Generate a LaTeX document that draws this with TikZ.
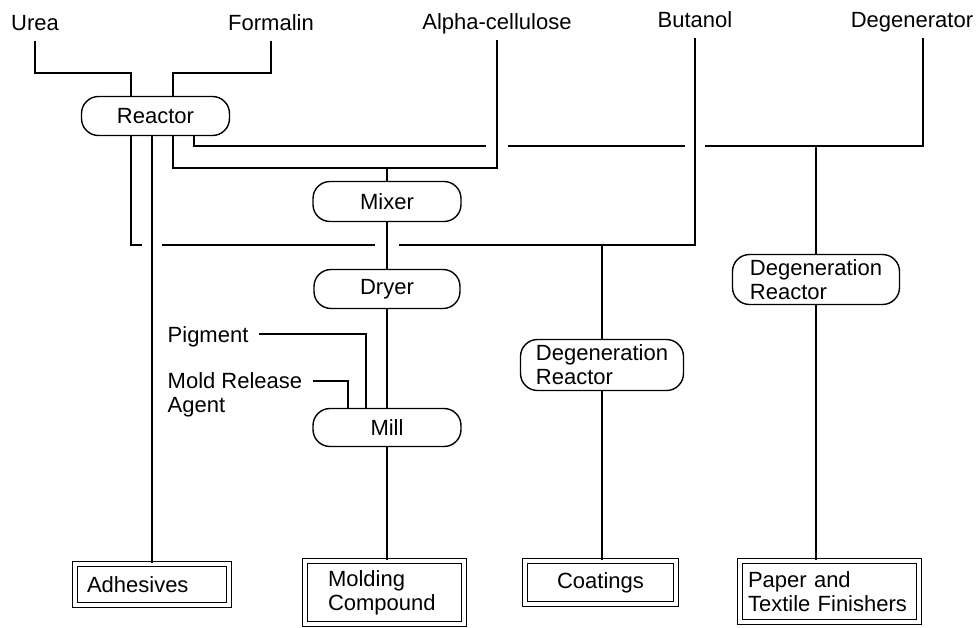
\documentclass[tikz,border=0pt]{standalone}
\usepackage{fontspec}
\setmainfont{Liberation Sans}

\begin{document}
\begin{tikzpicture}[x={(1pt,0pt)},y={(0pt,-1pt)},line width=1.4pt,
	every node/.style={font=\fontsize{22}{24}\selectfont},
	lbl/.style={inner sep=10pt},
	src/.style={lbl,text height=16pt,text depth=0pt},
	unit/.style={draw,rounded corners=17pt,align=left},
	prod/.style={draw,double,double distance=3.2pt,line width=1.2pt,align=left},
	gap/.style={white,line width=5pt}]
	\useasboundingbox (0,0) rectangle (978,627);
	\node[src] (urea) at (35,22) {Urea};
	\node[src] (formalin) at (271,22) {Formalin};
	\node[src] (alpha) at (497,21) {Alpha-cellulose};
	\node[src] (butanol) at (695,19) {Butanol};
	\node[src] (degenerator) at (912,19) {Degenerator};
	\node[src,anchor=west] (pigment) at (157,334) {Pigment};
	\node[lbl,align=left,anchor=north west] (mold) at (157,362) {Mold Release\\Agent};

	\node[unit,minimum width=148pt,minimum height=39pt] (reactor) at (155.5,116) {Reactor};
	\node[unit,minimum width=148pt,minimum height=40pt] (mixer) at (387,201.5) {Mixer};
	\node[unit,minimum width=146pt,minimum height=39pt] (dryer) at (387,289) {Dryer};
	\node[unit,minimum width=148pt,minimum height=38pt] (mill) at (387,427.5) {Mill};
	\node[unit,minimum width=163pt,minimum height=51pt] (degc) at (602,365) {Degeneration\\Reactor};
	\node[unit,minimum width=167pt,minimum height=50pt] (degr) at (816,279.5) {Degeneration\\Reactor};

	\node[prod,text width=130pt,inner xsep=12pt,minimum height=41pt] (adh) at (152,584.5) {Adhesives};
	\node[prod,text width=113pt,inner xsep=23pt,minimum height=63pt] (molding) at (384.5,592.5) {Molding\\Compound};
	\node[prod,align=center,minimum width=151pt,minimum height=43pt] (coat) at (600.5,582.5) {Coatings};
	\node[prod,text width=163pt,inner xsep=8pt,minimum height=61pt] (paper) at (829.5,591.5) {Paper and\\Textile Finishers};

	\coordinate (ua) at (131,73);
	\coordinate (fa) at (173,73);
	\coordinate (o1) at (131,245);
	\coordinate (o2) at (173,168);
	\coordinate (o3) at (194,146);

	\draw (urea) |- (ua) -- (ua |- reactor.north);
	\draw (formalin) |- (fa) -- (fa |- reactor.north);
	\draw (o3 |- reactor.south) -- (o3) -| ([xshift=11pt]degenerator.south);
	\draw[gap] (alpha |- o3) +(-11,0) -- +(11,0);
	\draw[gap] (butanol |- o3) +(-10,0) -- +(10,0);
	\draw (o2 |- reactor.south) -- (o2) -| (alpha);
	\draw (mixer |- o2) -- (mixer);
	\draw (o1 |- reactor.south) -- (o1) -| (butanol);
	\draw[gap] (adh |- o1) +(-10,0) -- +(10,0);
	\draw[gap] (mixer |- o1) +(-12,0) -- +(12,0);
	\draw (adh |- reactor.south) -- (adh);
	\draw (mixer) -- (dryer);
	\draw (dryer) -- (mill);
	\draw (pigment) -| ([xshift=-21pt]mill.north);
	\draw ([yshift=-19pt]mold.north east) -| ([xshift=-39pt]mill.north);
	\draw (mill) -- (mill |- molding.north);
	\draw (degc |- o1) -- (degc);
	\draw (degc) -- (degc |- coat.north);
	\draw (degr |- o3) -- (degr);
	\draw (degr) -- (degr |- paper.north);
\end{tikzpicture}
\end{document}
